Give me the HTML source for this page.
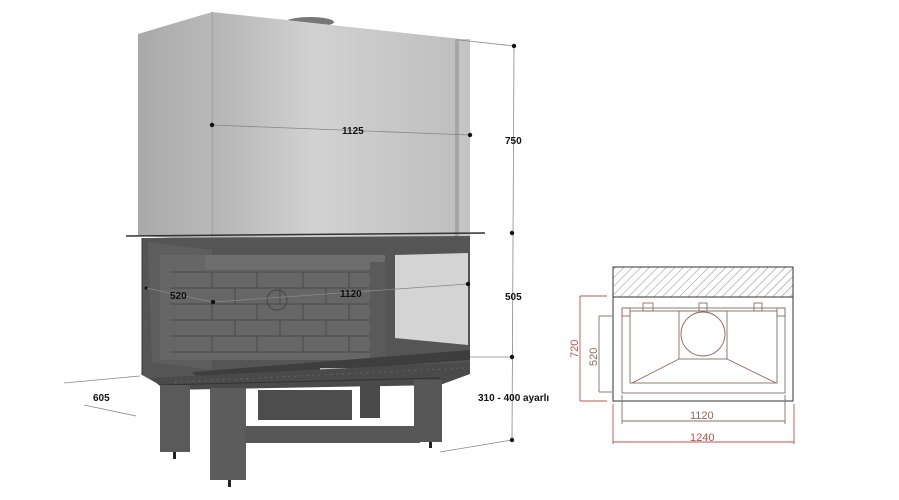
<!DOCTYPE html>
<html><head><meta charset="utf-8"><style>
html,body{margin:0;padding:0;background:#fff;}
svg{display:block;}
text{font-family:"Liberation Sans",Arial,sans-serif;}
</style></head><body>
<svg width="899" height="500" viewBox="0 0 899 500" xmlns="http://www.w3.org/2000/svg">
<defs>
<linearGradient id="hf" x1="0" x2="1" y1="0" y2="0">
<stop offset="0" stop-color="#b4b4b4"/><stop offset="0.4" stop-color="#d2d2d2"/><stop offset="1" stop-color="#bdbdbd"/>
</linearGradient>
<linearGradient id="hs" x1="0" x2="1"><stop offset="0" stop-color="#a9a9a9"/><stop offset="1" stop-color="#b9b9b9"/></linearGradient>
<pattern id="hatch" width="6" height="6" patternUnits="userSpaceOnUse" patternTransform="rotate(45)">
<line x1="0" y1="0" x2="0" y2="6" stroke="#555" stroke-width="0.7"/></pattern>
</defs>
<!-- hood -->
<ellipse cx="310" cy="22" rx="24" ry="5" fill="#777"/>
<polygon points="138,34 212,12 212,240 138,236" fill="url(#hs)"/>
<polygon points="212,12 470,40 470,240 212,240" fill="url(#hf)"/>
<line x1="212" y1="12" x2="212" y2="240" stroke="#999" stroke-width="0.8"/>
<rect x="455" y="39" width="4" height="201" fill="#a5a5a5"/>
<rect x="459" y="39" width="11" height="201" fill="#c4c4c4"/>
<!-- ledge -->
<line x1="126" y1="236" x2="485" y2="233" stroke="#333" stroke-width="1.5"/>
<!-- firebox -->
<polygon points="142,238 470,236 470,372 440,385 160,385 142,375" fill="#555"/>
<polygon points="148,242 212,250 212,370 152,362" fill="#5e5e5e"/>
<rect x="160" y="255" width="210" height="105" fill="#666"/>
<rect x="205" y="255" width="180" height="14" fill="#6e6e6e"/>
<g stroke="#4a4a4a" stroke-width="1" fill="none">
<line x1="170" y1="272" x2="370" y2="272"/><line x1="170" y1="288" x2="370" y2="288"/>
<line x1="170" y1="304" x2="370" y2="304"/><line x1="170" y1="320" x2="370" y2="320"/>
<line x1="170" y1="336" x2="370" y2="336"/><line x1="170" y1="352" x2="370" y2="352"/>
<path d="M212 272v16M257 272v16M303 272v16M349 272v16M235 288v16M280 288v16M326 288v16M212 304v16M257 304v16M303 304v16M349 304v16M235 320v16M280 320v16M326 320v16M212 336v16M257 336v16M303 336v16M349 336v16"/>
</g>
<circle cx="277" cy="300" r="10" fill="none" stroke="#444"/>
<rect x="370" y="262" width="16" height="98" fill="#5a5a5a"/>
<polygon points="395,255 468,253 468,345 395,338" fill="#d4d4d4"/>
<polygon points="192,372 470,350 470,360 200,380" fill="#3e3e3e"/>
<rect x="320" y="368" width="50" height="3" fill="#bbb"/>
<polygon points="150,378 470,362 470,374 440,385 165,390" fill="#4a4a4a"/>
<line x1="160" y1="385" x2="440" y2="378" stroke="#333"/>
<line x1="175" y1="382" x2="465" y2="368" stroke="#777" stroke-dasharray="1 5"/>
<line x1="142" y1="238" x2="142" y2="375" stroke="#333"/>
<!-- legs -->
<rect x="360" y="383" width="20" height="35" fill="#4a4a4a"/>
<rect x="258" y="390" width="94" height="30" fill="#4d4d4d"/>
<rect x="160" y="385" width="30" height="67" fill="#5a5a5a"/>
<rect x="245" y="426" width="175" height="17" fill="#575757"/>
<rect x="210" y="388" width="36" height="92" fill="#5c5c5c"/>
<rect x="414" y="380" width="28" height="62" fill="#575757"/>
<rect x="173" y="452" width="3" height="7" fill="#222"/>
<rect x="228" y="480" width="3" height="7" fill="#222"/>
<rect x="429" y="442" width="3" height="6" fill="#222"/>
<!-- dimension lines -->
<g stroke="#888" stroke-width="0.8" fill="none">
<line x1="514" y1="46" x2="512" y2="440"/>
<line x1="459" y1="40" x2="514" y2="46"/>
<line x1="212" y1="125" x2="470" y2="135"/>
<line x1="146" y1="288" x2="213" y2="302"/>
<line x1="213" y1="302" x2="468" y2="284"/>
<line x1="64" y1="383" x2="140" y2="376"/>
<line x1="84" y1="405" x2="136" y2="416"/>
<line x1="440" y1="452" x2="512" y2="440"/>
<line x1="470" y1="357" x2="512" y2="357"/>
</g>
<g fill="#111">
<circle cx="514" cy="46" r="2.2"/><circle cx="512" cy="233" r="2.2"/><circle cx="512" cy="357" r="2.2"/><circle cx="512" cy="440" r="2.2"/>
<circle cx="212" cy="125" r="2.2"/><circle cx="470" cy="135" r="2.2"/>
<circle cx="213" cy="302" r="2.2"/><circle cx="468" cy="284" r="2.2"/><circle cx="146" cy="288" r="1.5"/>
</g>
<g font-size="10" font-weight="bold" fill="#111">
<text x="342" y="134">1125</text>
<text x="505" y="144">750</text>
<text x="505" y="300">505</text>
<text x="170" y="299">520</text>
<text x="340" y="297">1120</text>
<text x="93" y="401">605</text>
<text x="478" y="401">310 - 400 ayarlı</text>
</g>
<!-- right technical drawing -->
<rect x="613" y="267" width="180" height="30" fill="url(#hatch)" stroke="#333" stroke-width="1"/>
<rect x="613" y="297" width="180" height="104" fill="#fff" stroke="#333" stroke-width="1"/>
<g stroke="#8a6b60" fill="none" stroke-width="0.9">
<rect x="622" y="308" width="163" height="85"/>
<rect x="630" y="311" width="147" height="72"/>
<rect x="679" y="311" width="48" height="48"/>
<circle cx="703" cy="334" r="22"/>
<line x1="679" y1="359" x2="632" y2="383"/><line x1="727" y1="359" x2="776" y2="383"/>
<rect x="643" y="303" width="10" height="8"/><rect x="699" y="303" width="8" height="8"/><rect x="754" y="303" width="8" height="8"/>
<rect x="622" y="308" width="8" height="8"/><rect x="777" y="308" width="8" height="8"/>
<line x1="599" y1="316" x2="612" y2="316"/><line x1="599" y1="392" x2="612" y2="392"/>
<line x1="599" y1="316" x2="599" y2="392"/>
<line x1="622" y1="395" x2="622" y2="424"/><line x1="785" y1="395" x2="785" y2="424"/>
<line x1="622" y1="421" x2="785" y2="421"/>
</g>
<g stroke="#c0504d" fill="none" stroke-width="0.9">
<line x1="580" y1="296" x2="580" y2="401"/>
<line x1="580" y1="296" x2="607" y2="296"/><line x1="580" y1="401" x2="607" y2="401"/>
<line x1="613" y1="404" x2="613" y2="444"/><line x1="794" y1="404" x2="794" y2="444"/>
<line x1="613" y1="442" x2="794" y2="442"/>
</g>
<text x="690" y="419" font-size="11" fill="#8a6b60">1120</text>
<text x="690" y="441" font-size="11" fill="#c0504d">1240</text>
<text transform="translate(578,358) rotate(-90)" font-size="11" fill="#c0504d">720</text>
<text transform="translate(597,366) rotate(-90)" font-size="11" fill="#8a6b60">520</text>
</svg>
</body></html>
